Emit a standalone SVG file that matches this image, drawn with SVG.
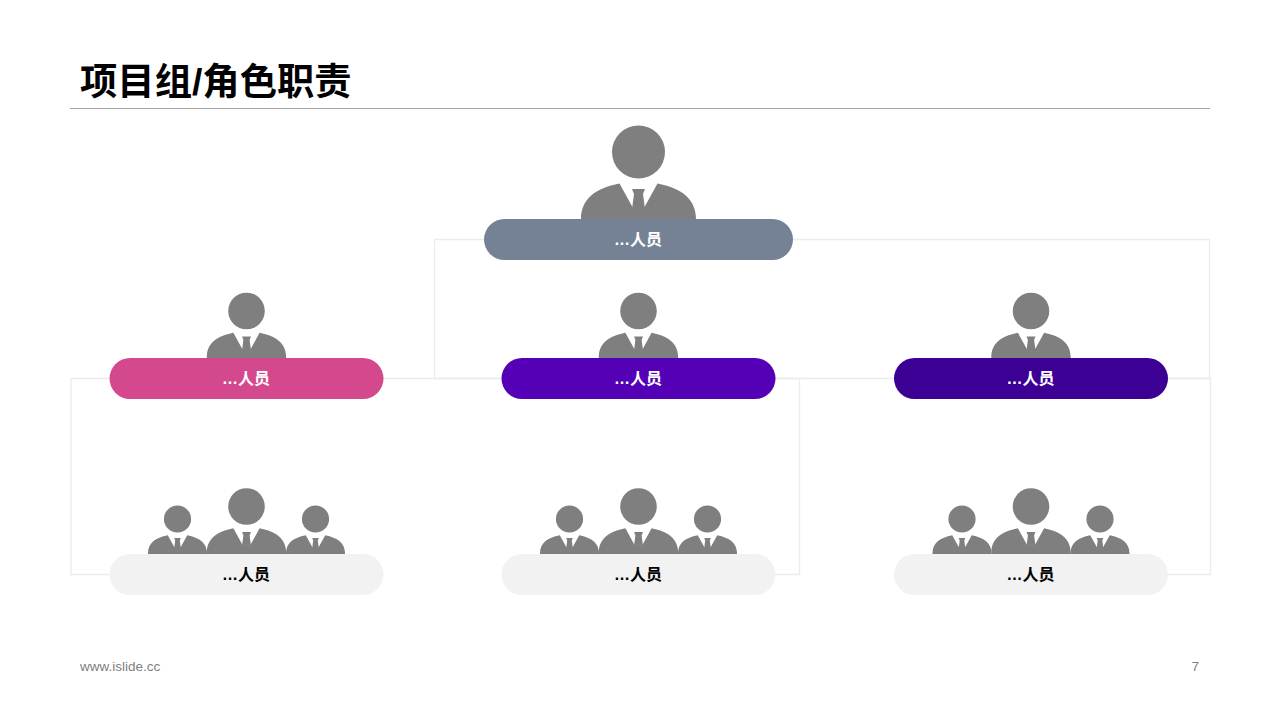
<svg xmlns="http://www.w3.org/2000/svg" xmlns:xlink="http://www.w3.org/1999/xlink" width="1280" height="720" viewBox="0 0 1280 720">
<style>
text{font-family:"Liberation Sans","Noto Sans CJK SC",sans-serif}
.lbl{font-size:16px;font-weight:700;text-anchor:middle}
.w{fill:#fff}.k{fill:#000}
.conn{fill:none;stroke:#ececec;stroke-width:1.330}
.p{fill:#7f7f7f}
.foot{font-size:13.500px;fill:#7f7f7f}
</style>
<defs>
<g id="person" class="p">
<circle cx="0" cy="0" r="26.5"/>
<path d="M-57.5,69V67C-57.5,47 -43,36 -19,31.500L-5.500,56H5.500L19,31.500C43,36 57.500,47 57.500,67V69Z"/>
<path d="M-6.500,37H6.500L4.500,42L6.500,57H-6.500L-4.500,42Z"/>
</g>
</defs>
<rect width="1280" height="720" fill="#fff"/>
<g id="header">
<text x="80" y="95" font-size="37.330" font-weight="700" fill="#000">项目组/角色职责</text>
<path d="M70,108.500H1210" stroke="#a6a6a6" stroke-width="1" fill="none"/>
</g>
<g id="connectors">
<path class="conn" d="M484,239.500H434.500V378.500H501"/>
<path class="conn" d="M793,239.500H1209.500V378.500H1168"/>
<path class="conn" d="M383,378.500H501"/>
<path class="conn" d="M775,378.500H894"/>
<path class="conn" d="M109,378.500H71V574.500H109"/>
<path class="conn" d="M775,378.500H799.500V574.500H775"/>
<path class="conn" d="M1168,378.500H1210.500V574.500H1168"/>
</g>
<g id="node-top">
<use xlink:href="#person" href="#person" transform="translate(638.500,152)"/>
<rect x="484" y="219" width="309" height="41" rx="20.500" fill="#758295"/>
<text class="lbl w" x="638" y="245">…人员</text>
</g>
<g id="node-mid-1">
<use xlink:href="#person" href="#person" transform="translate(246.500,311) scale(.69)"/>
<rect x="109.500" y="358" width="274" height="41" rx="20.500" fill="#d4488e"/>
<text class="lbl w" x="246" y="384">…人员</text>
</g>
<g id="node-mid-2">
<use xlink:href="#person" href="#person" transform="translate(638.500,311) scale(.69)"/>
<rect x="501.500" y="358" width="274" height="41" rx="20.500" fill="#5300b6"/>
<text class="lbl w" x="638" y="384">…人员</text>
</g>
<g id="node-mid-3">
<use xlink:href="#person" href="#person" transform="translate(1031,311) scale(.69)"/>
<rect x="894" y="358" width="274" height="41" rx="20.500" fill="#3c0095"/>
<text class="lbl w" x="1030.500" y="384">…人员</text>
</g>
<g id="node-team-1">
<use xlink:href="#person" href="#person" transform="translate(177.500,519) scale(.513)"/>
<use xlink:href="#person" href="#person" transform="translate(315.500,519) scale(.513)"/>
<use xlink:href="#person" href="#person" transform="translate(246.500,506.500) scale(.69)"/>
<rect x="109.500" y="554" width="274" height="41" rx="20.500" fill="#f2f2f2"/>
<text class="lbl k" x="246" y="580">…人员</text>
</g>
<g id="node-team-2">
<use xlink:href="#person" href="#person" transform="translate(569.500,519) scale(.513)"/>
<use xlink:href="#person" href="#person" transform="translate(707.500,519) scale(.513)"/>
<use xlink:href="#person" href="#person" transform="translate(638.500,506.500) scale(.69)"/>
<rect x="501.500" y="554" width="274" height="41" rx="20.500" fill="#f2f2f2"/>
<text class="lbl k" x="638" y="580">…人员</text>
</g>
<g id="node-team-3">
<use xlink:href="#person" href="#person" transform="translate(962,519) scale(.513)"/>
<use xlink:href="#person" href="#person" transform="translate(1100,519) scale(.513)"/>
<use xlink:href="#person" href="#person" transform="translate(1031,506.500) scale(.69)"/>
<rect x="894" y="554" width="274" height="41" rx="20.500" fill="#f2f2f2"/>
<text class="lbl k" x="1030.500" y="580">…人员</text>
</g>
<g id="footer">
<text class="foot" x="80" y="670.500">www.islide.cc</text>
<text class="foot" x="1199" y="670.500" text-anchor="end">7</text>
</g>
</svg>
